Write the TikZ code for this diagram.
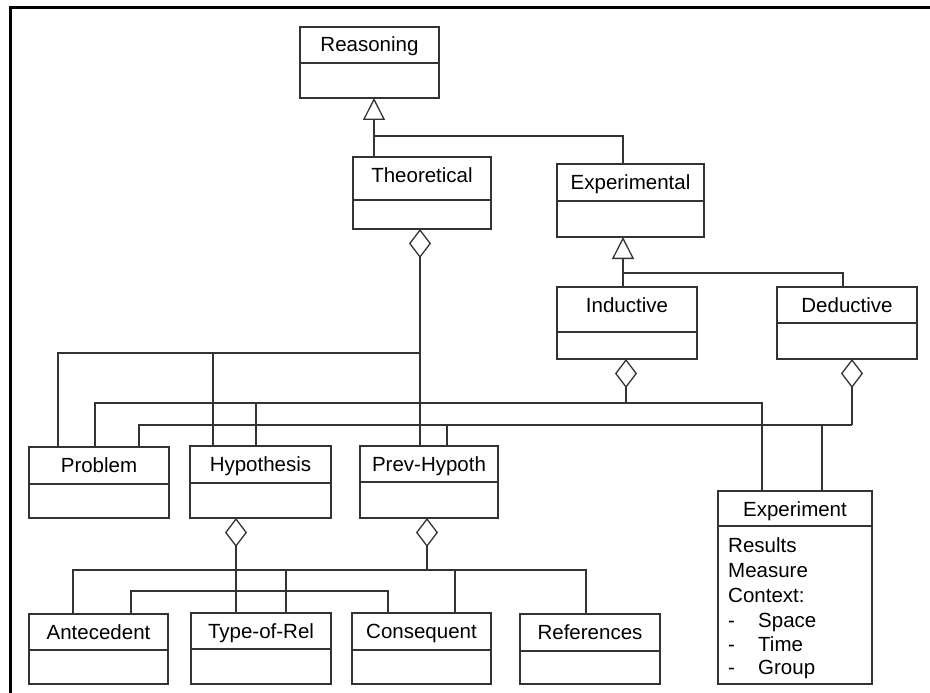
\documentclass[tikz,border=0pt]{standalone}
\usepackage{fontspec}
\setmainfont{Liberation Sans}
\usetikzlibrary{arrows.meta,calc}
\tikzset{
  ln/.style={line width=1.3pt, draw=black!80},
  gen/.style={ln, -{Triangle[open, length=22pt, width=22pt]}},
  agg/.style={ln, -{Diamond[open, length=29pt, width=22pt]}},
  classbox/.style={ln, rectangle, inner sep=0pt, outer sep=0pt, anchor=north west},
  ttl/.style={font=\fontsize{20.5}{24.5}\selectfont, inner sep=0pt, anchor=base},
  attr/.style={font=\fontsize{20.5}{24.5}\selectfont, inner sep=0pt, anchor=base west},
}
\newcommand\umlclass[7]{%
  \node[classbox, minimum width={(#4-#2)*1pt}, minimum height={(#5-#3)*1pt}] (#1) at (#2,#3) {};
  \draw[ln] (#2,#6) -- (#4,#6);
  \node[ttl] (#1-title) at ({(#2+#4)/2},{#3+25}) {#7};
}
\begin{document}
\begin{tikzpicture}[x=1pt,y=-1pt]
\fill[white] (0,0) rectangle (930,693);
\useasboundingbox (0,0) rectangle (930,693);
\draw[line width=3pt] (10.5,693) -- (10.5,8) -- (930,8);

% classes
\umlclass{reason}{300}{27}{439}{98}{63}{Reasoning}
\umlclass{theo}{353}{157}{491}{229}{200}{Theoretical}
\umlclass{exper}{557}{164}{704}{237}{201}{Experimental}
\umlclass{induc}{557}{287}{697}{359}{332}{Inductive}
\umlclass{deduc}{777}{287}{917}{359}{323}{Deductive}
\umlclass{problem}{29}{447}{169}{518}{484}{Problem}
\umlclass{hypo}{190}{446}{331}{518}{483}{Hypothesis}
\umlclass{prev}{360}{446}{498}{518}{482}{Prev-Hypoth}
\umlclass{antec}{29}{614}{168}{684}{650}{Antecedent}
\umlclass{typerel}{191}{613}{331}{684}{649}{Type-of-Rel}
\umlclass{conseq}{352}{613}{491}{684}{650}{Consequent}
\umlclass{refs}{520}{614}{660}{684}{651}{References}
\umlclass{experiment}{718}{491}{872}{684}{526}{Experiment}

\node[attr] (att1) at (728,552) {Results};
\node[attr] (att2) at (728,577) {Measure};
\node[attr] (att3) at (728,602) {Context:};
\node[attr] (att4) at (728,627) {\makebox[30pt][l]{-}Space};
\node[attr] (att5) at (728,651) {\makebox[30pt][l]{-}Time};
\node[attr] (att6) at (728,674) {\makebox[30pt][l]{-}Group};

% generalizations
\coordinate (g1) at (374,136);
\draw[gen] ([xshift=21pt]theo.north west) -- ([xshift=74pt]reason.south west);
\draw[ln] ([xshift=66pt]exper.north west) |- (g1);
\coordinate (g2) at (623,273);
\draw[gen] ([xshift=66pt]induc.north west) -- ([xshift=66pt]exper.south west);
\draw[ln] ([xshift=66pt]deduc.north west) |- (g2);

% Theoretical aggregation
\coordinate (tbus) at (420,353);
\draw[agg] ([xshift=60pt]prev.north west) -- ([xshift=67pt]theo.south west);
\draw[ln] ([xshift=29pt]problem.north west) |- (tbus);
\draw[ln] ([xshift=23pt]hypo.north west) |- (tbus);

% Inductive aggregation
\coordinate (ibus) at (626,403);
\draw[agg] (ibus) -- ([xshift=69pt]induc.south west);
\draw[ln] ([xshift=66pt]problem.north west) |- (ibus);
\draw[ln] ([xshift=66pt]hypo.north west) |- (ibus);
\draw[ln] ([xshift=44pt]experiment.north west) |- (ibus);

% Deductive aggregation
\coordinate (dbus) at (852,425);
\draw[agg] (dbus) -- ([xshift=75pt]deduc.south west);
\draw[ln] ([xshift=110pt]problem.north west) |- (dbus);
\draw[ln] ([xshift=87pt]prev.north west) |- (dbus);
\draw[ln] ([xshift=104pt]experiment.north west) |- (dbus);

% Hypothesis aggregation
\coordinate (hbus) at (236,591);
\draw[agg] ([xshift=45pt]typerel.north west) -- ([xshift=46pt]hypo.south west);
\draw[ln] ([xshift=102pt]antec.north west) |- (hbus);
\draw[ln] ([xshift=36pt]conseq.north west) |- (hbus);

% Prev-Hypoth aggregation
\coordinate (pbus) at (427,570);
\draw[agg] (pbus) -- ([xshift=67pt]prev.south west);
\draw[ln] ([xshift=44pt]antec.north west) |- (pbus);
\draw[ln] ([xshift=95pt]typerel.north west) |- (pbus);
\draw[ln] ([xshift=103pt]conseq.north west) |- (pbus);
\draw[ln] ([xshift=66pt]refs.north west) |- (pbus);
\end{tikzpicture}
\end{document}
